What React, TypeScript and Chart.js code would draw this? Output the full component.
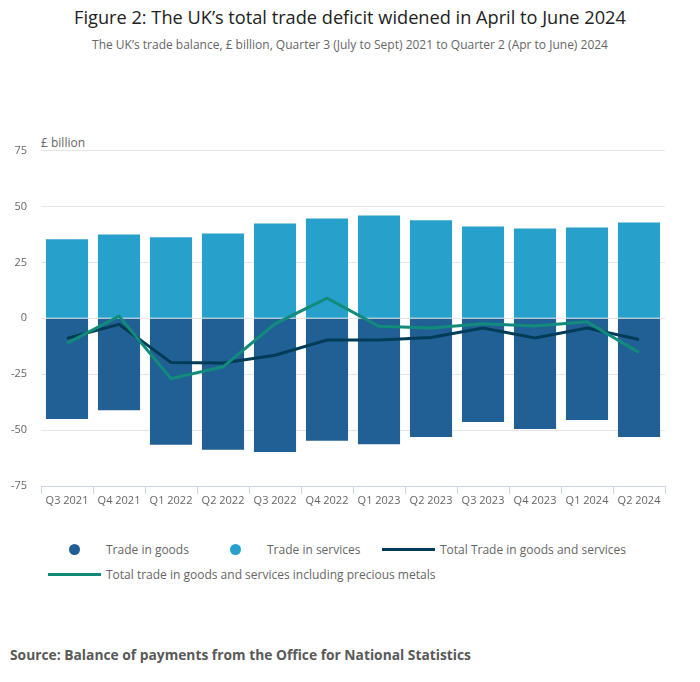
import { useEffect, useRef } from "react"
import { Chart, registerables } from "chart.js"

Chart.register(...registerables)

const quarters = [
  "Q3 2021", "Q4 2021", "Q1 2022", "Q2 2022", "Q3 2022", "Q4 2022",
  "Q1 2023", "Q2 2023", "Q3 2023", "Q4 2023", "Q1 2024", "Q2 2024",
]
const tradeInGoods = [-45.0, -41.1, -56.5, -58.8, -59.8, -54.8, -56.3, -53.1, -46.4, -49.5, -45.5, -53.1]
const tradeInServices = [35.3, 37.5, 36.2, 37.9, 42.4, 44.6, 46.0, 43.8, 41.1, 40.2, 40.6, 42.8]
const totalTrade = [-9.0, -2.7, -19.8, -20.0, -16.5, -9.7, -9.7, -8.6, -4.3, -8.8, -4.4, -9.5]
const totalInclMetals = [-11.2, 1.0, -27.0, -21.7, -2.5, 9.0, -3.6, -4.3, -2.4, -3.4, -1.6, -15.3]
const yTicks = [-75, -50, -25, 0, 25, 50, 75]

const GOODS = "#206095"
const SERVICES = "#27a0cc"
const TOTAL = "#003c57"
const METALS = "#118c7b"
const FONT = "'Open Sans', 'Noto Sans', sans-serif"

function TradeChart() {
  const chartRef = useRef<HTMLCanvasElement>(null)
  const chartInstance = useRef<Chart | null>(null)

  useEffect(() => {
    if (!chartRef.current) return
    if (chartInstance.current) chartInstance.current.destroy()
    const ctx = chartRef.current.getContext("2d")
    if (!ctx) return

    chartInstance.current = new Chart(ctx, {
      type: "bar",
      data: {
        labels: quarters,
        datasets: [
          {
            type: "line",
            label: "Total trade in goods and services including precious metals",
            data: totalInclMetals,
            borderColor: METALS,
            borderWidth: 3,
            pointRadius: 0,
            stack: "metals",
            order: 0,
          },
          {
            type: "line",
            label: "Total Trade in goods and services",
            data: totalTrade,
            borderColor: TOTAL,
            borderWidth: 3,
            pointRadius: 0,
            stack: "total",
            order: 1,
          },
          {
            label: "Trade in goods",
            data: tradeInGoods,
            backgroundColor: GOODS,
            stack: "trade",
            barPercentage: 1,
            categoryPercentage: 0.81,
            order: 2,
          },
          {
            label: "Trade in services",
            data: tradeInServices,
            backgroundColor: SERVICES,
            stack: "trade",
            barPercentage: 1,
            categoryPercentage: 0.81,
            order: 2,
          },
        ],
      },
      options: {
        animation: false,
        responsive: true,
        maintainAspectRatio: false,
        layout: { padding: { top: 20, right: 35, left: 0, bottom: 0 } },
        plugins: {
          legend: { display: false },
          tooltip: { enabled: false },
        },
        scales: {
          x: {
            stacked: true,
            grid: {
              offset: true,
              drawOnChartArea: false,
              drawTicks: true,
              tickLength: 8,
              color: "#ccd6eb",
            },
            border: { color: "#ccd6eb" },
            ticks: {
              color: "#666666",
              font: { family: FONT, size: 11 },
              padding: 0,
              maxRotation: 0,
              autoSkip: false,
            },
            afterFit: (scale) => {
              scale.height = 44
            },
          },
          y: {
            stacked: true,
            min: -75,
            max: 75,
            afterBuildTicks: (scale) => {
              scale.ticks = yTicks.map((v) => ({ value: v }))
            },
            grid: { color: "#e6e6e6", drawTicks: false },
            border: { display: false },
            ticks: {
              color: "#666666",
              font: { family: FONT, size: 11 },
              padding: 14,
            },
            afterFit: (scale) => {
              scale.width = 41
            },
          },
        },
      },
    })

    return () => {
      if (chartInstance.current) {
        chartInstance.current.destroy()
        chartInstance.current = null
      }
    }
  }, [])

  return (
    <div style={{ position: "absolute", left: 0, top: 130, width: 700, height: 400 }}>
      <canvas ref={chartRef} />
    </div>
  )
}

function LegendItem({ left, top, kind, color, text }: { left: number; top: number; kind: "dot" | "line"; color: string; text: string }) {
  return (
    <div style={{ position: "absolute", left, top, height: 16, display: "flex", alignItems: "center", whiteSpace: "nowrap" }}>
      <div style={{ width: 53, display: "flex", justifyContent: "center", alignItems: "center", marginRight: 5 }}>
        {kind === "dot" ? (
          <div style={{ width: 11, height: 11, borderRadius: "50%", background: color }} />
        ) : (
          <div style={{ width: 53, height: 3, background: color }} />
        )}
      </div>
      <span style={{ fontFamily: FONT, fontSize: 12, color: "#666666" }}>{text}</span>
    </div>
  )
}

export default function App() {
  useEffect(() => {
    document.body.style.margin = "0"
  }, [])

  return (
    <div style={{ position: "relative", width: 700, height: 682, background: "#ffffff", fontFamily: FONT }}>
      <div style={{ position: "absolute", top: 5, left: 0, width: 700, textAlign: "center", fontSize: 18.2, color: "#222222" }}>
        Figure 2: The UK’s total trade deficit widened in April to June 2024
      </div>
      <div style={{ position: "absolute", top: 36, left: 0, width: 700, textAlign: "center", fontSize: 12, color: "#666666" }}>
        The UK’s trade balance, £ billion, Quarter 3 (July to Sept) 2021 to Quarter 2 (Apr to June) 2024
      </div>
      <div style={{ position: "absolute", top: 134, left: 41, fontSize: 12, color: "#666666" }}>£ billion</div>
      <TradeChart />
      <LegendItem left={48} top={541} kind="dot" color={GOODS} text="Trade in goods" />
      <LegendItem left={209} top={541} kind="dot" color={SERVICES} text="Trade in services" />
      <LegendItem left={382} top={541} kind="line" color={TOTAL} text="Total Trade in goods and services" />
      <LegendItem left={48} top={566} kind="line" color={METALS} text="Total trade in goods and services including precious metals" />
      <div style={{ position: "absolute", top: 645, left: 10, fontSize: 13.8, fontWeight: 700, color: "#595959" }}>
        Source: Balance of payments from the Office for National Statistics
      </div>
    </div>
  )
}
